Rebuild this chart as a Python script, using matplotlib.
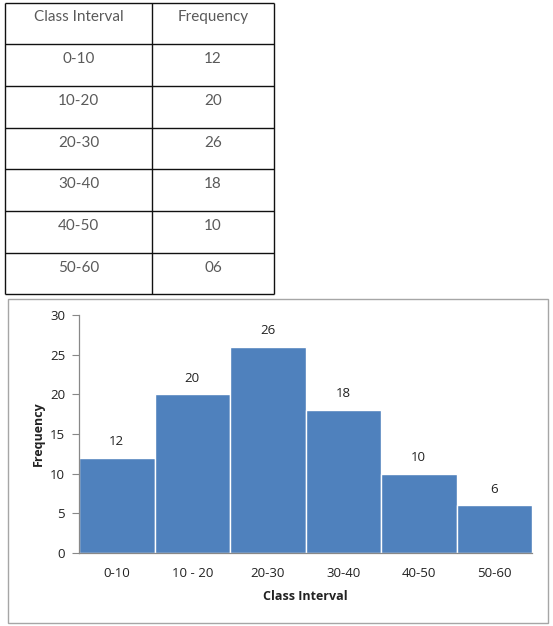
import matplotlib
matplotlib.use("Agg")
import matplotlib.pyplot as plt
from matplotlib.patches import Rectangle

# Data
table_header = ["Class Interval", "Frequency"]
table_intervals = ["0-10", "10-20", "20-30", "30-40", "40-50", "50-60"]
table_freqs = ["12", "20", "26", "18", "10", "06"]

bar_labels = ["0-10", "10 - 20", "20-30", "30-40", "40-50", "50-60"]
frequencies = [12, 20, 26, 18, 10, 6]
y_ticks = [0, 5, 10, 15, 20, 25, 30]

W, H = 553, 626
fig = plt.figure(figsize=(W / 100, H / 100), dpi=100)
fig.patch.set_facecolor("white")

# Overlay in pixel coordinates for table and chart frame
ov = fig.add_axes([0, 0, 1, 1])
ov.set_xlim(0, W)
ov.set_ylim(H, 0)
ov.axis("off")

# Table
tx0, tx1, tcol = 5, 274, 152
row_y = [3, 44, 86, 128, 169, 211, 253, 294]
lw = 1.0
for y in row_y:
    ov.plot([tx0, tx1], [y, y], color="#111111", lw=lw, solid_capstyle="butt")
for x in (tx0, tcol, tx1):
    ov.plot([x, x], [row_y[0], row_y[-1]], color="#111111", lw=lw, solid_capstyle="butt")

tfont = dict(family=["Lato", "DejaVu Sans"], fontsize=11, color="#5a5a5a",
             ha="center", va="center")
c1 = (tx0 + tcol) / 2
c2 = (tcol + tx1) / 2
ov.text(c1, 17, table_header[0], **tfont)
ov.text(c2, 17, table_header[1], **tfont)
for i, (iv, fq) in enumerate(zip(table_intervals, table_freqs)):
    yc = row_y[i + 1] + 15
    ov.text(c1, yc, iv, **tfont)
    ov.text(c2, yc, fq, **tfont)

# Chart frame
ov.add_patch(Rectangle((8, 299), 540, 324, fill=False, edgecolor="#a6a6a6", lw=1.0))

# Chart axes
ax = fig.add_axes([79 / W, 1 - 553 / H, (532 - 79) / W, (553 - 315) / H])
bar_color = "#4F81BD"
xs = list(range(len(frequencies)))
ax.bar([x + 0.5 for x in xs], frequencies, width=1.0, color=bar_color,
       edgecolor="white", linewidth=1.0)
ax.set_xlim(0, len(frequencies))
ax.set_ylim(0, 30)
ax.set_yticks(y_ticks)
ax.set_xticks([x + 0.5 for x in xs])
ax.set_xticklabels(bar_labels)

font_chart = ["Open Sans", "DejaVu Sans"]
for lab in ax.get_xticklabels() + ax.get_yticklabels():
    lab.set_family(font_chart)
    lab.set_fontsize(9.5)
    lab.set_color("#222222")

ax.tick_params(axis="x", length=0, pad=10)
ax.tick_params(axis="y", length=5, color="#888888", width=0.8, pad=5)
for s in ("top", "right"):
    ax.spines[s].set_visible(False)
for s in ("left", "bottom"):
    ax.spines[s].set_color("#888888")
    ax.spines[s].set_linewidth(0.9)

for x, v in zip(xs, frequencies):
    ax.annotate(str(v), (x + 0.5, v), xytext=(0, 7), textcoords="offset points",
                ha="center", va="bottom", fontsize=9.5, family=font_chart,
                color="#222222")

ax.set_xlabel("Class Interval", fontsize=9, fontweight="bold",
              family=font_chart, labelpad=7, color="#222222")
ax.set_ylabel("Frequency", fontsize=9, fontweight="bold",
              family=font_chart, labelpad=3.5, color="#222222")

fig.savefig("out.png", dpi=100, facecolor="white")
